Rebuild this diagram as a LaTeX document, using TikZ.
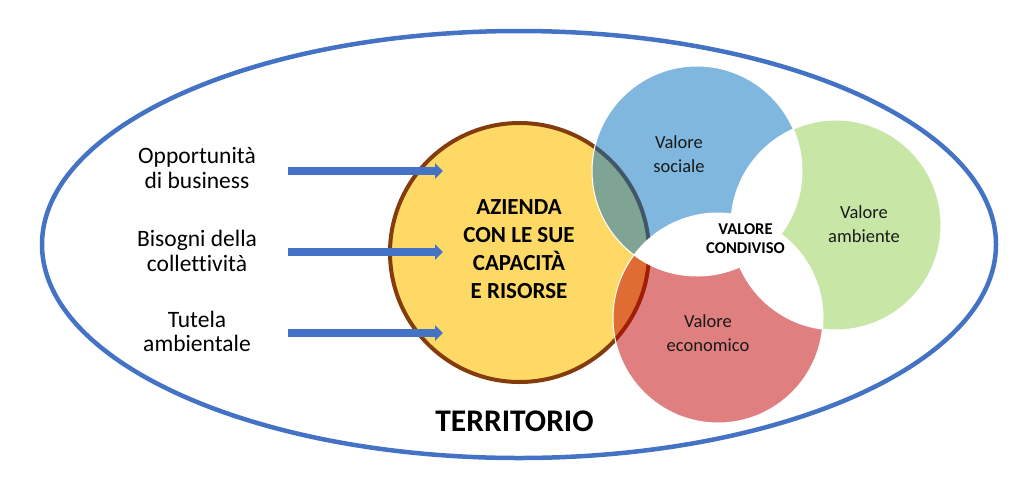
\documentclass[tikz,border=0pt]{standalone}
\usepackage{fontspec}
\setmainfont{Carlito}[Ligatures=NoCommon]
\usetikzlibrary{arrows.meta}
\definecolor{bordoblu}{HTML}{4472C4}
\definecolor{giallo}{HTML}{FFD966}
\definecolor{marrone}{HTML}{843C0C}
\definecolor{socblu}{HTML}{0070C0}
\definecolor{ambverde}{HTML}{92D050}
\definecolor{ecorosso}{HTML}{C00000}
\tikzset{
  etichetta/.style={align=center, font=\fontsize{23.5}{24.5}\selectfont},
  valore/.style={align=center, text=black!90, font=\fontsize{18.5}{24}\selectfont},
  freccia/.style={draw=bordoblu, line width=8pt, -{Triangle[length=8pt,width=15pt]}}
}

\begin{document}
\begin{tikzpicture}[x=1pt,y=-1pt]
        \useasboundingbox (0,0) rectangle (1024,496);

        % Territorio
        \draw[bordoblu, line width=4.5pt] (519,244.5) ellipse [x radius=477, y radius=213.5];
        \node[font=\bfseries\fontsize{31.5}{36}\selectfont] (terr) at (514.5,421.5) {TERRITORIO};

        % Azienda
        \fill[giallo] (519.5,252.5) circle [radius=129.5];
        \draw[marrone, line width=4pt] (519.5,252.5) circle [radius=129.5];
        \node[align=center, font=\bfseries\fontsize{23}{28}\selectfont] (az) at (519,249) {AZIENDA\\CON LE SUE\\CAPACITÀ\\E RISORSE};

        % Input e frecce
        \node[etichetta] (opp) at (197,168) {Opportunità\\di business};
        \node[etichetta] (bis) at (197,251) {Bisogni della\\collettività};
        \node[etichetta] (tut) at (197,331.5) {Tutela\\ambientale};
        \coordinate (o1) at (288,171); \coordinate (d1) at (443,171);
        \coordinate (o2) at (288,252); \coordinate (d2) at (443,252);
        \coordinate (o3) at (288,333); \coordinate (d3) at (443,333);
        \draw[freccia] (o1) -- (d1);
        \draw[freccia] (o2) -- (d2);
        \draw[freccia] (o3) -- (d3);

        % Valori
        \fill[socblu, fill opacity=0.5] (697,171) circle [radius=105];
        \fill[ambverde, fill opacity=0.5] (836,225) circle [radius=105];
        \fill[ecorosso, fill opacity=0.5] (718,318) circle [radius=105];
        \begin{scope}
          \clip (697,171) circle [radius=105];
          \fill[white] (836,225) circle [radius=105];
          \fill[white] (718,318) circle [radius=105];
        \end{scope}
        \begin{scope}
          \clip (836,225) circle [radius=105];
          \fill[white] (718,318) circle [radius=105];
        \end{scope}
        \foreach \cx/\cy in {697/171, 836/225, 718/318}
          \draw[white, line width=1pt] (\cx,\cy) circle [radius=105];

        \node[valore] (soc) at (679,154) {Valore\\sociale};
        \node[valore] (amb) at (864,224.5) {Valore\\ambiente};
        \node[valore] (eco) at (708,333) {Valore\\economico};
        \node[align=center, font=\bfseries\fontsize{16.5}{19}\selectfont] (cond) at (745.5,239) {VALORE\\CONDIVISO};
\end{tikzpicture}
\end{document}
